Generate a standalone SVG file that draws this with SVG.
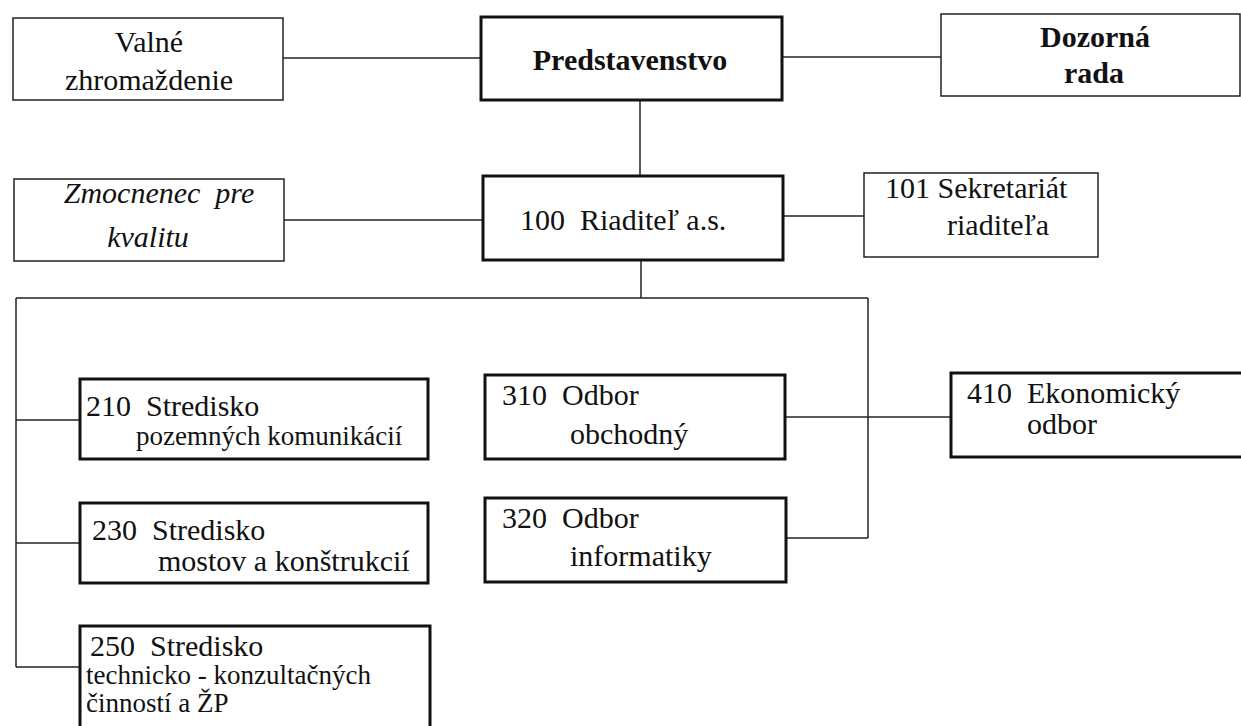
<svg xmlns="http://www.w3.org/2000/svg" width="1241" height="726" viewBox="0 0 1241 726" font-family="'Liberation Serif', 'Times New Roman', serif">
<style>
.bg{fill:#fff}
.thin{fill:#fff;stroke:#222;stroke-width:1.5}
.thick{fill:#fff;stroke:#111;stroke-width:3}
text{font-family:'Liberation Serif','Times New Roman',serif;font-size:30px;fill:#111}
.s{font-size:27px}
.b{font-weight:bold}
.i{font-style:italic}
.c{text-anchor:middle}
#connectors line{stroke:#222;stroke-width:1.5}
</style>
<rect class="bg" x="0" y="0" width="1241" height="726"/>
<g id="connectors">
<line x1="283" y1="58" x2="481" y2="58"/>
<line x1="782" y1="57" x2="941" y2="57"/>
<line x1="640" y1="100" x2="640" y2="176"/>
<line x1="284" y1="220" x2="483" y2="220"/>
<line x1="783" y1="216" x2="864" y2="216"/>
<line x1="641" y1="260" x2="641" y2="298"/>
<line x1="16" y1="298" x2="868" y2="298"/>
<line x1="16" y1="298" x2="16" y2="667"/>
<line x1="16" y1="420" x2="80" y2="420"/>
<line x1="16" y1="543" x2="80" y2="543"/>
<line x1="16" y1="667" x2="80" y2="667"/>
<line x1="868" y1="298" x2="868" y2="538"/>
<line x1="785" y1="417" x2="951" y2="417"/>
<line x1="785" y1="538" x2="868" y2="538"/>
</g>
<g id="valne">
<rect class="thin" x="13" y="18" width="270" height="82"/>
<text class="c" x="149" y="52" font-family="'Liberation Serif', serif">Valné</text>
<text class="c" x="149" y="90" font-family="'Liberation Serif', serif">zhromaždenie</text>
</g>
<g id="predstavenstvo">
<rect class="thick" x="481" y="17" width="301" height="83"/>
<text class="b c" x="630" y="70" font-family="'Liberation Serif', serif">Predstavenstvo</text>
</g>
<g id="dozorna">
<rect class="thin" x="941" y="14" width="299" height="82"/>
<text class="b c" x="1095" y="47" font-family="'Liberation Serif', serif">Dozorná</text>
<text class="b c" x="1094" y="83" font-family="'Liberation Serif', serif">rada</text>
</g>
<g id="zmocnenec">
<rect class="thin" x="14" y="179" width="270" height="82"/>
<text class="i c" x="159" y="203" xml:space="preserve" font-family="'Liberation Serif', serif">Zmocnenec  pre</text>
<text class="i c" x="148" y="247" font-family="'Liberation Serif', serif">kvalitu</text>
</g>
<g id="riaditel">
<rect class="thick" x="483" y="176" width="300" height="84"/>
<text x="520" y="230" xml:space="preserve" font-family="'Liberation Serif', serif">100  Riaditeľ a.s.</text>
</g>
<g id="sekretariat">
<rect class="thin" x="864" y="173" width="234" height="84"/>
<text x="885" y="198" font-family="'Liberation Serif', serif">101 Sekretariát</text>
<text x="947" y="235" font-family="'Liberation Serif', serif">riaditeľa</text>
</g>
<g id="n210">
<rect class="thick" x="80" y="379" width="348" height="80"/>
<text x="86" y="416" xml:space="preserve" font-family="'Liberation Serif', serif">210  Stredisko</text>
<text class="s" x="136" y="445" font-family="'Liberation Serif', serif">pozemných komunikácií</text>
</g>
<g id="n230">
<rect class="thick" x="80" y="503" width="348" height="80"/>
<text x="92" y="540" xml:space="preserve" font-family="'Liberation Serif', serif">230  Stredisko</text>
<text x="158" y="571" font-family="'Liberation Serif', serif">mostov a konštrukcií</text>
</g>
<g id="n250">
<rect class="thick" x="80" y="626" width="350" height="120"/>
<text x="90" y="656" xml:space="preserve" font-family="'Liberation Serif', serif">250  Stredisko</text>
<text class="s" x="86" y="684" font-family="'Liberation Serif', serif">technicko - konzultačných</text>
<text class="s" x="86" y="712" font-family="'Liberation Serif', serif">činností a ŽP</text>
</g>
<g id="n310">
<rect class="thick" x="485" y="375" width="300" height="84"/>
<text x="502" y="405" xml:space="preserve" font-family="'Liberation Serif', serif">310  Odbor</text>
<text x="570" y="444" font-family="'Liberation Serif', serif">obchodný</text>
</g>
<g id="n320">
<rect class="thick" x="485" y="498" width="301" height="84"/>
<text x="502" y="528" xml:space="preserve" font-family="'Liberation Serif', serif">320  Odbor</text>
<text x="570" y="566" font-family="'Liberation Serif', serif">informatiky</text>
</g>
<g id="n410">
<rect class="thick" x="951" y="373" width="300" height="84"/>
<text x="967" y="403" xml:space="preserve" font-family="'Liberation Serif', serif">410  Ekonomický</text>
<text x="1027" y="434" font-family="'Liberation Serif', serif">odbor</text>
</g>
</svg>
